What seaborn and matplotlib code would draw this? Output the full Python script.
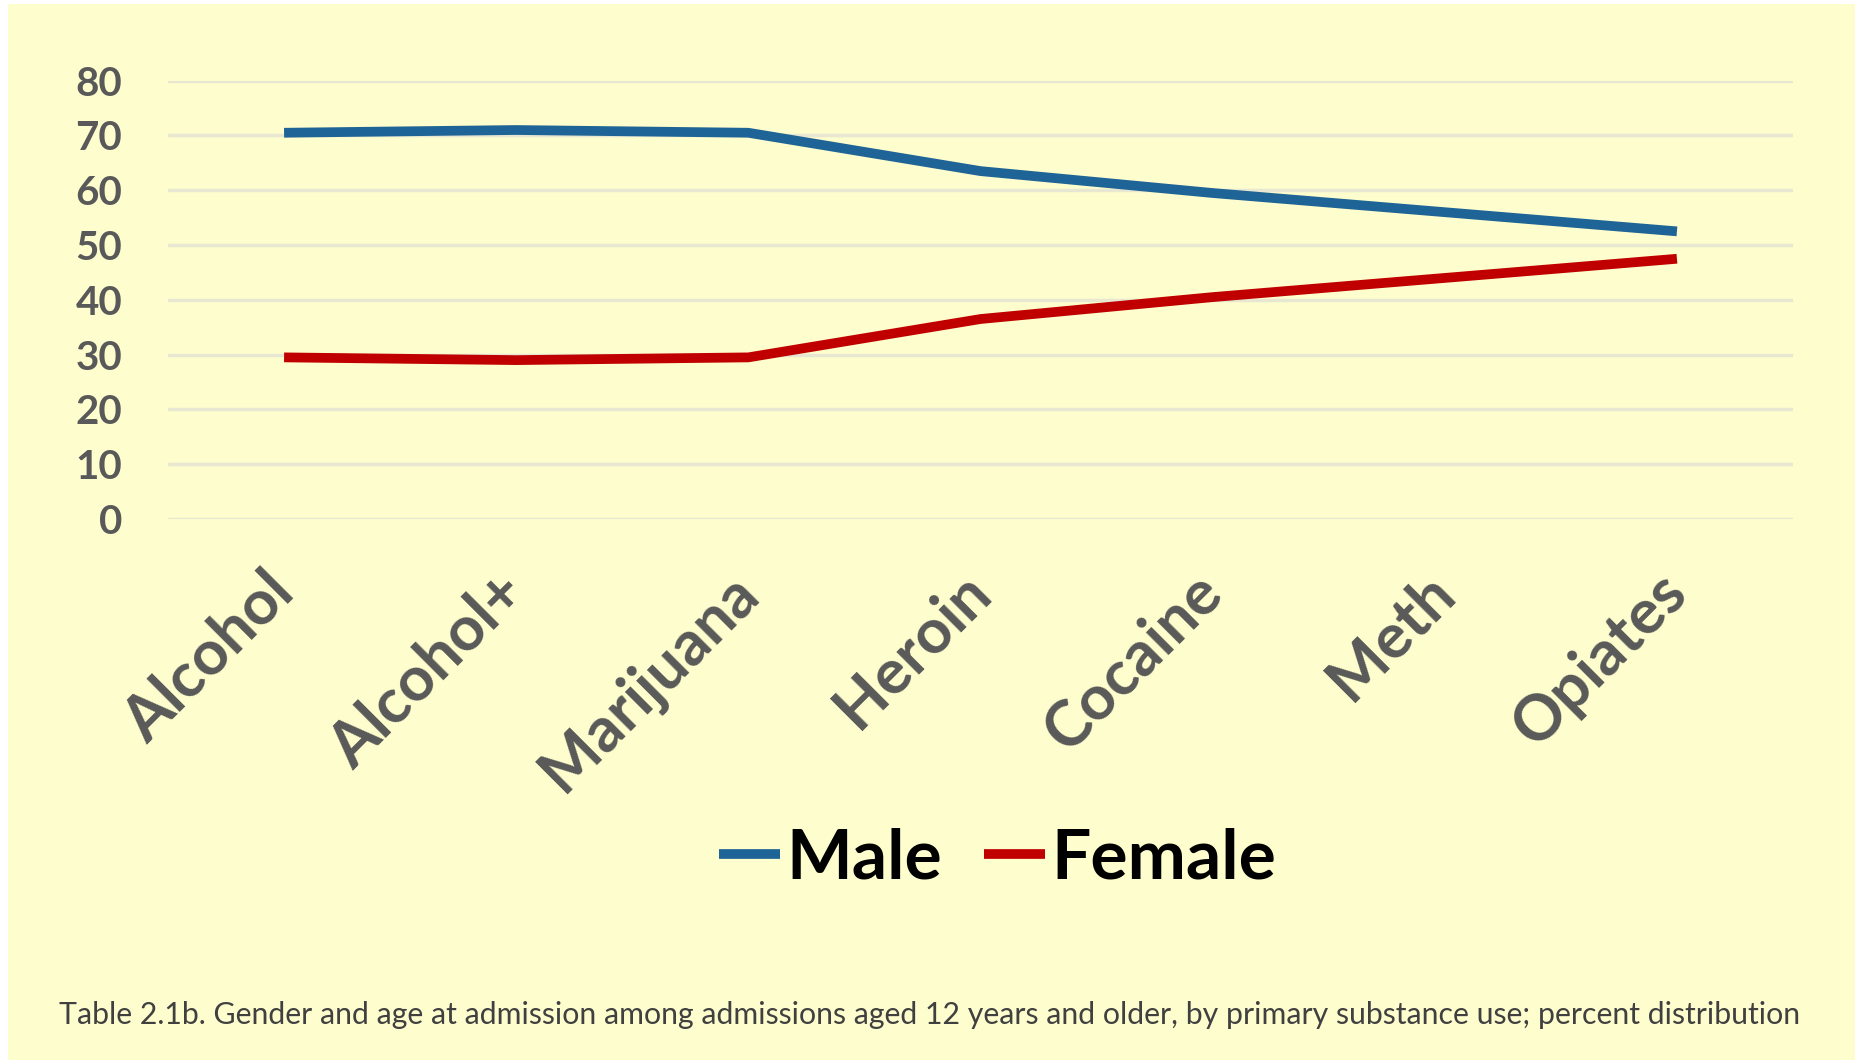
import matplotlib
matplotlib.use("Agg")
import matplotlib.pyplot as plt
from matplotlib.patches import Rectangle
import seaborn as sns
import pandas as pd

# ---- data ----
substances = ["Alcohol", "Alcohol+", "Marijuana", "Heroin", "Cocaine", "Meth", "Opiates"]
male = [70.5, 71.0, 70.5, 63.5, 59.5, 56.0, 52.5]
female = [29.5, 29.0, 29.5, 36.5, 40.5, 44.0, 47.5]
series_names = ["Male", "Female"]
y_ticks = [0, 10, 20, 30, 40, 50, 60, 70, 80]
caption = ("Table 2.1b. Gender and age at admission among admissions aged 12 years and older, "
           "by primary substance use; percent distribution")

# ---- styles ----
BG = "#FEFDCD"
GRID = "#E8E8D2"
TXT = "#595959"
palette = {"Male": "#1F6496", "Female": "#C00000"}

sns.set_theme(style="white")
plt.rcParams["font.family"] = ["Lato", "DejaVu Sans"]

df = pd.DataFrame({
    "Substance": substances * 2,
    "Percent": male + female,
    "Gender": [series_names[0]] * len(substances) + [series_names[1]] * len(substances),
})

W, H = 1855, 1060
fig = plt.figure(figsize=(W / 100, H / 100), dpi=100, facecolor="white")
fig.patches.append(Rectangle((8 / W, 0), 1 - 8 / W, 1 - 4 / H, transform=fig.transFigure,
                             facecolor=BG, edgecolor="none", zorder=-10))

left, right, bottom, top = 168, 1793, 519, 80.7
ax = fig.add_axes([left / W, 1 - bottom / H, (right - left) / W, (bottom - top) / H])
ax.set_facecolor("none")

sns.lineplot(data=df, x="Substance", y="Percent", hue="Gender", hue_order=series_names,
             palette=palette, linewidth=7, sort=False, ax=ax)
for ln in ax.get_lines():
    ln.set_solid_capstyle("butt")

ax.set_xlim(-0.5, len(substances) - 0.5)
ax.set_ylim(0, 80)
ax.set_yticks(y_ticks)
ax.set_xticks(range(len(substances)))
ax.set_xticklabels(substances, rotation=45, ha="right", rotation_mode="anchor",
                   fontsize=45, fontweight="bold", color=TXT)
for lab in ax.get_xticklabels():
    lab.set_va("center")
for lab in ax.get_yticklabels():
    lab.set_fontsize(29)
    lab.set_fontweight("bold")
    lab.set_color(TXT)
ax.tick_params(axis="x", length=0, pad=46)
ax.tick_params(axis="y", length=0, pad=33)
ax.set_xlabel("")
ax.set_ylabel("")
for s in ax.spines.values():
    s.set_visible(False)
ax.yaxis.grid(True, color=GRID, linewidth=2.5)
ax.xaxis.grid(False)
ax.set_axisbelow(True)

leg = ax.legend(loc="center", bbox_to_anchor=(998 / W, 1 - 859 / H), bbox_transform=fig.transFigure,
                ncol=2, frameon=False, handlelength=0.87, handletextpad=0.1, columnspacing=0.6,
                prop=dict(weight="bold", size=50))
for t in leg.get_texts():
    t.set_color("black")

fig.text(930 / W, 1 - 1015 / H, caption, ha="center", va="center", fontsize=21.8, color="#404040")

fig.savefig("out.png", dpi=100, facecolor="white")
